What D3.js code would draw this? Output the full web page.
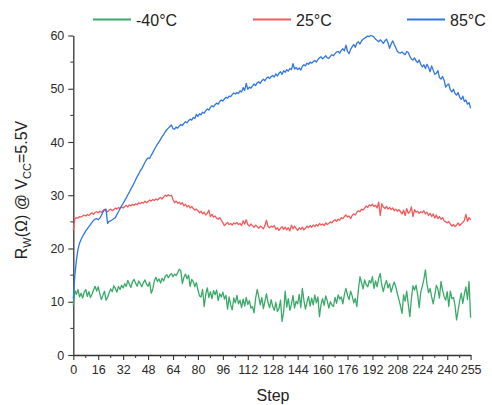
<!DOCTYPE html>
<html>
<head>
<meta charset="utf-8">
<script src="https://cdn.jsdelivr.net/npm/d3@7"></script>
<style>
  html, body { margin: 0; padding: 0; background: #fff; }
  svg { display: block; font-family: "Liberation Sans", Arial, sans-serif; }
</style>
</head>
<body>
<svg id="chart" width="492" height="405"></svg>
<script>
// Wiper resistance vs. digital step, three temperatures
const seriesNames = ["-40°C", "25°C", "85°C"];
const seriesColors = ["#3aaa68", "#f25a5c", "#2f76e3"];

const rMinus40 = [
  9.3, 12.1, 11.4, 12.3, 10.9, 11.6, 10.7, 11.8, 12.3, 11.0, 11.9, 10.8, 11.4, 12.2, 12.9, 12.0,
  12.8, 11.5, 10.4, 11.2, 12.0, 10.3, 10.8, 11.7, 12.4, 11.9, 13.0, 12.5, 11.8, 12.9, 12.3, 13.1,
  12.6, 13.4, 12.9, 14.0, 13.3, 12.7, 13.8, 14.2, 13.5, 12.9, 13.9, 13.4, 12.8, 13.6, 14.1, 13.3,
  12.9, 13.7, 11.6, 12.4, 13.9, 14.6, 13.8, 14.3, 13.5, 14.4, 13.9, 14.8, 15.1, 14.5, 15.0, 15.3,
  14.7, 15.2, 14.9, 15.5, 16.1, 15.8, 13.4, 14.6, 15.2, 14.3, 15.0, 12.9, 14.2, 13.8, 12.8, 13.6,
  12.2, 11.1, 10.9, 12.3, 9.1, 11.4, 12.6, 10.8, 11.9, 10.6, 12.1, 11.3, 12.2, 10.2, 11.5, 10.9,
  11.8, 10.5, 11.2, 8.6, 10.9, 9.4, 8.5, 10.7, 9.8, 11.2, 9.6, 10.3, 8.9, 10.5, 9.2, 10.8,
  9.5, 10.2, 8.8, 9.1, 7.9, 10.6, 12.3, 11.0, 9.4, 10.8, 8.7, 10.1, 11.5, 9.8, 8.9, 10.4,
  9.1, 8.4, 9.9, 8.2, 8.7, 10.3, 6.3, 8.1, 12.0, 9.0, 10.6, 8.4, 9.5, 11.2, 8.8, 10.1,
  9.6, 11.4, 8.9, 12.5, 10.3, 8.6, 9.9, 11.0, 9.2, 10.7, 9.4, 11.3, 9.8, 10.9, 7.2, 9.5,
  10.6, 9.3, 11.1, 10.2, 8.8, 10.0, 9.4, 9.1, 10.8, 9.7, 11.3, 10.5, 10.9, 9.6, 11.4, 12.5,
  11.2, 10.4, 12.0, 11.1, 9.8, 10.6, 9.1, 12.3, 14.7, 13.6, 12.4, 14.1, 13.2, 12.8, 14.0, 13.5,
  14.7, 12.5, 13.9, 12.8, 14.4, 15.3, 13.1, 11.9, 13.2, 14.0, 12.6, 13.4, 11.8, 12.9, 13.7, 12.8,
  11.5, 10.4, 9.2, 7.8, 11.3, 10.1, 12.0, 9.5, 7.2, 10.6, 13.0, 12.2, 13.1, 11.4, 8.9, 11.8,
  12.9, 14.2, 16.0, 13.3, 11.7, 12.5, 10.9, 9.6, 11.2, 13.1, 12.4, 10.7, 13.8, 12.2, 11.0, 10.3,
  11.9, 9.1, 12.0, 10.6, 10.8, 9.3, 6.6, 8.4, 10.2, 11.6, 9.7, 11.5, 12.8, 10.4, 13.8, 7.0
];

const r25 = [
  23.5, 25.6, 25.8, 25.7, 26.0, 25.9, 26.1, 26.3, 26.1, 26.4, 26.2, 26.5, 26.7, 26.4, 26.8, 26.9,
  26.7, 27.0, 26.8, 27.1, 27.3, 27.0, 26.9, 27.2, 27.4, 27.1, 27.3, 27.6, 27.4, 27.7, 27.5, 27.8,
  27.6, 27.9, 28.1, 27.8, 28.2, 28.0, 28.3, 28.1, 28.4, 28.2, 28.6, 28.4, 28.7, 28.5, 28.9, 28.6,
  28.8, 29.1, 28.9, 29.2, 29.0, 29.3, 29.1, 29.4, 29.6, 29.3, 29.7, 30.0, 29.8, 30.1, 29.9, 30.0,
  29.2, 28.6, 28.9, 28.5, 28.7, 28.3, 28.6, 28.0, 28.3, 27.8, 28.1, 27.6, 27.9, 27.5, 27.2, 27.4,
  27.1, 26.7, 27.0, 26.5, 26.8, 26.3, 26.6, 27.2, 26.0, 26.4, 25.9, 26.1, 25.7, 25.5, 25.8, 25.3,
  24.8, 24.3, 24.6, 24.9, 24.5, 24.7, 24.4, 24.8, 24.6, 24.9, 24.5, 24.7, 24.3, 25.2, 24.6, 25.4,
  24.5, 24.2, 24.6, 24.3, 24.0, 24.4, 24.1, 23.8, 24.2, 24.0, 23.7, 24.3, 25.3, 24.1, 23.9, 24.2,
  24.0, 24.3, 23.6, 23.9, 23.4, 23.8, 24.1, 23.6, 24.0, 23.5, 23.9, 23.3, 24.4, 23.7, 24.2, 23.8,
  23.4, 23.9, 23.6, 24.0, 23.5, 23.8, 24.2, 23.9, 24.3, 24.0, 24.4, 24.1, 24.5, 24.2, 24.7, 24.4,
  24.6, 24.3, 24.8, 24.5, 24.7, 25.0, 24.8, 25.2, 25.4, 25.1, 25.5, 25.3, 25.8, 25.6, 26.0, 26.3,
  25.9, 26.1, 25.6, 26.2, 26.5, 26.3, 26.8, 27.1, 26.9, 27.4, 27.2, 27.6, 28.0, 27.7, 28.2, 28.0,
  28.3, 27.9, 28.1, 27.6, 28.7, 26.2, 28.4, 27.8, 27.5, 27.9, 27.4, 27.7, 27.3, 27.6, 27.1, 27.4,
  27.0, 27.3, 26.9, 26.5, 27.2, 26.2, 27.5, 26.6, 26.9, 27.8, 26.0, 27.3, 26.8, 27.0, 26.6, 26.9,
  26.7, 27.1, 26.5, 26.8, 26.2, 26.6, 26.0, 26.5, 25.7, 26.3, 25.6, 26.0, 25.5, 25.8, 25.2, 25.0,
  24.8, 25.1, 24.6, 24.2, 24.5, 24.1, 24.4, 24.8, 24.3, 24.6, 24.9, 25.3, 26.4, 25.1, 25.8, 25.4
];

const r85 = [
  10.5, 15.0, 17.8, 19.8, 21.0, 21.7, 22.3, 22.8, 23.3, 23.7, 24.1, 24.5, 24.9, 25.3, 25.5, 25.6,
  25.4, 25.7, 26.2, 26.8, 27.3, 27.4, 24.7, 25.1, 25.2, 25.4, 25.6, 25.8, 26.4, 26.9, 27.5, 28.0,
  28.5, 29.0, 29.5, 30.1, 30.6, 31.2, 31.7, 32.3, 32.9, 33.5, 34.0, 34.6, 35.0, 35.6, 36.2, 36.7,
  37.0, 36.9, 37.5, 38.0, 38.6, 39.1, 39.6, 40.0, 40.5, 41.0, 41.4, 41.9, 42.3, 42.6, 42.9, 43.2,
  42.5, 42.4, 42.8, 42.6, 43.0, 43.3, 43.1, 43.5, 43.8, 43.6, 44.0, 44.3, 44.1, 44.6, 44.4, 45.2,
  44.8, 45.3, 45.1, 45.6, 45.4, 45.9, 46.2, 46.0, 46.5, 46.8, 46.6, 47.0, 47.3, 47.1, 47.6, 47.9,
  47.7, 48.1, 48.4, 48.2, 48.6, 48.5, 48.9, 49.2, 49.0, 49.3, 49.1, 49.6, 49.4, 50.2, 49.7, 51.0,
  49.9, 50.3, 50.1, 50.5, 50.9, 50.6, 51.1, 51.3, 51.0, 51.5, 51.8, 51.5, 52.0, 52.2, 51.9, 52.3,
  52.5, 52.2, 52.8, 52.4, 52.9, 53.2, 52.7, 53.4, 53.1, 53.6, 53.3, 53.8, 53.6, 54.7, 53.7, 54.0,
  53.6, 53.9, 53.5, 54.2, 54.5, 54.3, 54.8, 54.6, 55.0, 54.8, 55.1, 55.3, 55.0, 55.5, 55.8, 56.0,
  55.6, 55.9, 56.2, 55.8, 55.7, 56.1, 56.4, 56.2, 56.6, 56.9, 57.0, 56.7, 57.2, 57.5, 57.1, 58.2,
  57.0, 56.6, 57.4, 57.9, 58.3, 57.8, 58.6, 58.8, 58.4, 59.0, 59.3, 59.5, 59.7, 59.9, 59.8, 60.0,
  59.9, 59.7, 59.3, 59.1, 58.8, 59.2, 58.9, 58.5, 59.0, 59.3, 58.6, 57.6, 58.4, 59.0, 58.3, 57.7,
  57.0, 56.8, 56.7, 56.9, 56.6, 56.4, 57.0, 56.8, 56.1, 55.6, 55.4, 55.8, 55.2, 54.9, 55.4, 54.6,
  54.1, 54.5, 53.8, 54.6, 54.0, 53.2, 54.3, 53.5, 52.7, 52.9, 53.4, 52.1, 51.8, 52.3, 51.6, 50.3,
  50.7, 50.9, 49.8, 49.4, 49.9, 49.1, 48.8, 49.3, 48.4, 48.0, 48.6, 47.6, 47.9, 47.1, 47.4, 46.3
];

const xTickValues = [0, 16, 32, 48, 64, 80, 96, 112, 128, 144, 160, 176, 192, 208, 224, 240, 255];
const xMinorTicks = [8, 24, 40, 56, 72, 88, 104, 120, 136, 152, 168, 184, 200, 216, 232, 248];
const yTickValues = [0, 10, 20, 30, 40, 50, 60];
const yMinorTicks = [5, 15, 25, 35, 45, 55];

const svg = d3.select("#chart");
const axisColor = "#333";

const x = d3.scaleLinear().domain([0, 255]).range([73.3, 470.6]);
const y = d3.scaleLinear().domain([0, 60]).range([355, 35.5]);

// Minor ticks (drawn first so the axis line sits on top)
const minor = svg.append("g").attr("stroke", axisColor).attr("stroke-width", 1);
minor.selectAll("line.xm").data(xMinorTicks).join("line")
  .attr("x1", d => x(d)).attr("x2", d => x(d))
  .attr("y1", y(0)).attr("y2", y(0) + 3);
minor.selectAll("line.ym").data(yMinorTicks).join("line")
  .attr("x1", x(0) - 3).attr("x2", x(0))
  .attr("y1", d => y(d)).attr("y2", d => y(d));

// Axes
const xAxis = svg.append("g")
  .attr("transform", `translate(0,${y(0)})`)
  .call(d3.axisBottom(x).tickValues(xTickValues).tickFormat(d3.format("d"))
    .tickSize(5).tickSizeOuter(0).tickPadding(5));
const yAxis = svg.append("g")
  .attr("transform", `translate(${x(0)},0)`)
  .call(d3.axisLeft(y).tickValues(yTickValues).tickFormat(d3.format("d"))
    .tickSize(5).tickSizeOuter(0).tickPadding(4));

[xAxis, yAxis].forEach(g => {
  g.select(".domain").attr("stroke", axisColor).attr("stroke-width", 1.3);
  g.selectAll(".tick line").attr("stroke", axisColor).attr("stroke-width", 1.1);
  g.selectAll(".tick text")
    .attr("fill", "#2a2a2a")
    .style("font-family", "'Liberation Sans', Arial, sans-serif")
    .style("font-size", "12.5px");
});

// Series lines
const seriesData = [rMinus40, r25, r85];
const line = d3.line().x((d, i) => x(i)).y(d => y(d));
svg.append("g").selectAll("path").data(seriesData).join("path")
  .attr("d", d => line(d))
  .attr("fill", "none")
  .attr("stroke", (d, i) => seriesColors[i])
  .attr("stroke-width", 1.3)
  .attr("stroke-linejoin", "round");

// Legend
const legendX = [93, 253, 407];
const legend = svg.append("g");
seriesNames.forEach((name, i) => {
  legend.append("line")
    .attr("x1", legendX[i]).attr("x2", legendX[i] + 38)
    .attr("y1", 19.5).attr("y2", 19.5)
    .attr("stroke", seriesColors[i]).attr("stroke-width", 2.2);
  legend.append("text")
    .attr("x", legendX[i] + 43).attr("y", 25.5)
    .attr("fill", "#222")
    .style("font-size", "16px")
    .text(name);
});

// Axis titles
svg.append("text")
  .attr("x", 273).attr("y", 401)
  .attr("text-anchor", "middle")
  .attr("fill", "#222")
  .style("font-size", "16px")
  .text("Step");

const yTitle = svg.append("text")
  .attr("transform", "translate(27,190) rotate(-90)")
  .attr("text-anchor", "middle")
  .attr("fill", "#222")
  .style("font-size", "16px");
yTitle.append("tspan").text("R");
yTitle.append("tspan").attr("dy", 4).style("font-size", "11px").text("W");
yTitle.append("tspan").attr("dy", -4).text("(Ω) @ V");
yTitle.append("tspan").attr("dy", 4).style("font-size", "11px").text("CC");
yTitle.append("tspan").attr("dy", -4).text("=5.5V");
</script>
</body>
</html>
